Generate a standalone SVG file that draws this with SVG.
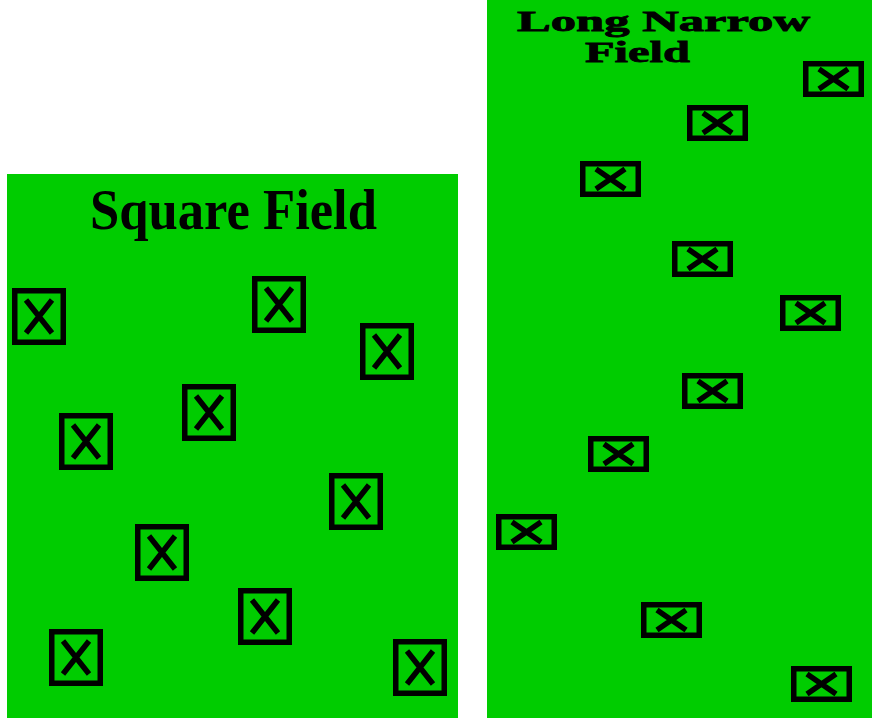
<svg xmlns="http://www.w3.org/2000/svg" xmlns:xlink="http://www.w3.org/1999/xlink" width="872" height="722" viewBox="0 0 872 722">
<style>
.field{fill:#00cc00}
.title{font-family:"Liberation Serif","Times New Roman",serif;font-weight:bold;fill:#000}
.heavy{stroke:#000;stroke-width:0.8}
.bx{fill:none;stroke:#000;stroke-width:5.5}
.xx{fill:none;stroke:#000;stroke-width:5.5}
</style>
<defs>
<g id="boxS">
<rect class="bx" x="2.75" y="2.75" width="48.5" height="51.5"/>
<path class="xx" d="M14 12 L40 45 M40 12 L14 45"/>
</g>
<g id="boxW">
<rect class="bx" x="2.75" y="2.75" width="55.5" height="30.5"/>
<path class="xx" d="M16 8 L45 28 M45 8 L16 28"/>
</g>
</defs>
<rect width="872" height="722" fill="#fff"/>
<g id="square-field">
<rect class="field" x="7" y="174" width="451" height="544"/>
<text class="title" x="90" y="229" font-size="56" textLength="287" lengthAdjust="spacingAndGlyphs">Square Field</text>
</g>
<g id="long-field">
<rect class="field" x="487" y="0" width="385" height="718"/>
<text class="title heavy" x="517" y="31" font-size="29" textLength="293" lengthAdjust="spacingAndGlyphs">Long Narrow</text>
<text class="title heavy" x="585" y="62" font-size="30" textLength="105" lengthAdjust="spacingAndGlyphs">Field</text>
</g>
<g id="square-boxes">
<g id="s1"><use xlink:href="#boxS" x="12" y="288"/></g>
<g id="s2"><use xlink:href="#boxS" x="252" y="276"/></g>
<g id="s3"><use xlink:href="#boxS" x="360" y="323"/></g>
<g id="s4"><use xlink:href="#boxS" x="182" y="384"/></g>
<g id="s5"><use xlink:href="#boxS" x="59" y="413"/></g>
<g id="s6"><use xlink:href="#boxS" x="329" y="473"/></g>
<g id="s7"><use xlink:href="#boxS" x="135" y="524"/></g>
<g id="s8"><use xlink:href="#boxS" x="238" y="588"/></g>
<g id="s9"><use xlink:href="#boxS" x="49" y="629"/></g>
<g id="s10"><use xlink:href="#boxS" x="393" y="639"/></g>
</g>
<g id="long-boxes">
<g id="l1"><use xlink:href="#boxW" x="803" y="61"/></g>
<g id="l2"><use xlink:href="#boxW" x="687" y="105"/></g>
<g id="l3"><use xlink:href="#boxW" x="580" y="161"/></g>
<g id="l4"><use xlink:href="#boxW" x="672" y="241"/></g>
<g id="l5"><use xlink:href="#boxW" x="780" y="295"/></g>
<g id="l6"><use xlink:href="#boxW" x="682" y="373"/></g>
<g id="l7"><use xlink:href="#boxW" x="588" y="436"/></g>
<g id="l8"><use xlink:href="#boxW" x="496" y="514"/></g>
<g id="l9"><use xlink:href="#boxW" x="641" y="602"/></g>
<g id="l10"><use xlink:href="#boxW" x="791" y="666"/></g>
</g>
<g id="connectors"/>
</svg>
